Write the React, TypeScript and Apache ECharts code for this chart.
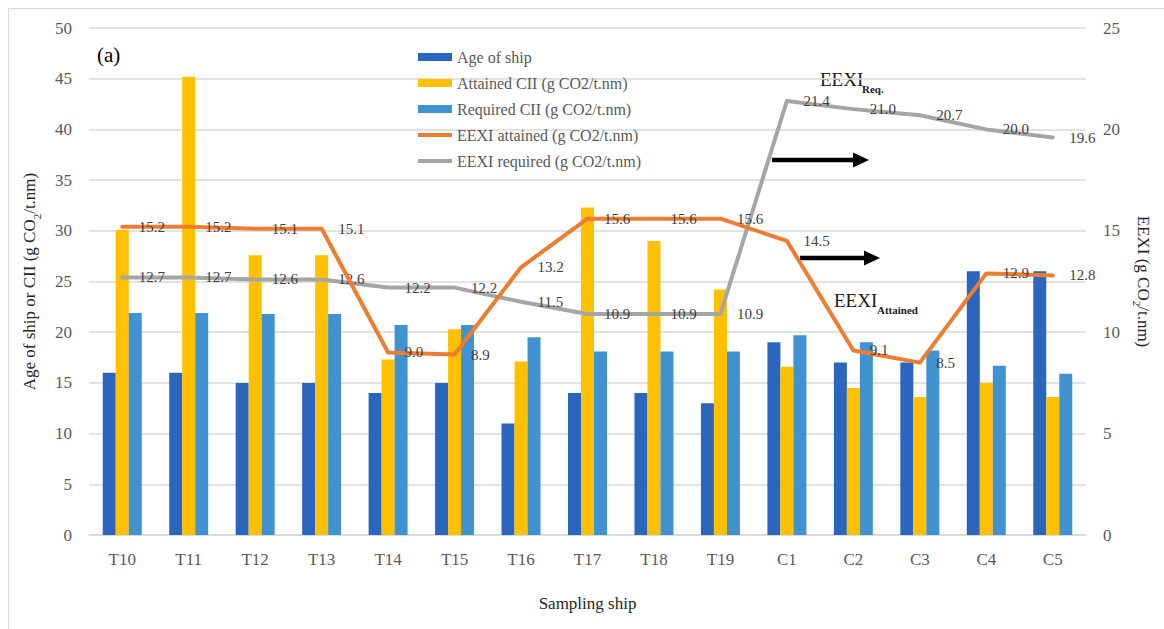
import React, { useEffect, useRef } from "react";
import * as echarts from "echarts";

const categories = ["T10", "T11", "T12", "T13", "T14", "T15", "T16", "T17", "T18", "T19", "C1", "C2", "C3", "C4", "C5"];
const ageOfShip = [16, 16, 15, 15, 14, 15, 11, 14, 14, 13, 19, 17, 17, 26, 26];
const attainedCII = [30.1, 45.2, 27.6, 27.6, 17.3, 20.3, 17.1, 32.3, 29.0, 24.2, 16.6, 14.5, 13.6, 15.0, 13.6];
const requiredCII = [21.9, 21.9, 21.8, 21.8, 20.7, 20.7, 19.5, 18.1, 18.1, 18.1, 19.7, 19.0, 18.2, 16.7, 15.9];
const eexiAttained = [15.2, 15.2, 15.1, 15.1, 9.0, 8.9, 13.2, 15.6, 15.6, 15.6, 14.5, 9.1, 8.5, 12.9, 12.8];
const eexiRequired = [12.7, 12.7, 12.6, 12.6, 12.2, 12.2, 11.5, 10.9, 10.9, 10.9, 21.4, 21.0, 20.7, 20.0, 19.6];
const seriesNames = [
  "Age of ship",
  "Attained CII (g CO2/t.nm)",
  "Required CII (g CO2/t.nm)",
  "EEXI attained (g CO2/t.nm)",
  "EEXI required (g CO2/t.nm)",
];

const FONT = "Liberation Serif";
const GRAY_TEXT = "#595959";
const LINE_ICON = "path://M0 0H34V4H0Z";

function makeLineLabel() {
  return {
    show: true,
    position: "right",
    distance: 16,
    color: "#404040",
    fontSize: 15,
    fontFamily: FONT,
    fontWeight: "normal",
    formatter: (p: any) => Number(p.value).toFixed(1),
  };
}

export default function App() {
  const ref = useRef<HTMLDivElement>(null);
  useEffect(() => {
    if (!ref.current) return;
    const chart = echarts.init(ref.current, null, { renderer: "svg" });
    const nameRich = {
      n: { fontSize: 17, fontFamily: FONT, color: "#262626", lineHeight: 20, verticalAlign: "top" },
      s: { fontSize: 11, fontFamily: FONT, color: "#262626", lineHeight: 11, padding: [10, 0, 0, 0], verticalAlign: "top" },
    };
    const option: any = {
      animation: false,
      backgroundColor: "#ffffff",
      textStyle: { fontFamily: FONT },
      grid: { left: 89, right: 78, top: 28, bottom: 94 },
      legend: {
        orient: "vertical",
        left: 413,
        top: 44,
        itemWidth: 34,
        itemHeight: 8,
        itemGap: 10,
        symbolKeepAspect: true,
        textStyle: { fontSize: 16, fontFamily: FONT, color: GRAY_TEXT },
        data: [
          { name: seriesNames[0], icon: "rect" },
          { name: seriesNames[1], icon: "rect" },
          { name: seriesNames[2], icon: "rect" },
          { name: seriesNames[3], icon: LINE_ICON },
          { name: seriesNames[4], icon: LINE_ICON },
        ],
      },
      xAxis: {
        type: "category",
        data: categories,
        name: "Sampling ship",
        nameLocation: "middle",
        nameGap: 60,
        nameTextStyle: { fontSize: 17, fontFamily: FONT, color: "#262626" },
        axisLine: { show: true, lineStyle: { color: "#d9d9d9", width: 1.5 } },
        axisTick: { show: false },
        axisLabel: { fontSize: 17, fontFamily: FONT, color: GRAY_TEXT, margin: 16 },
      },
      yAxis: [
        {
          type: "value",
          min: 0,
          max: 50,
          interval: 5,
          name: "{n|Age of ship or CII (g CO}{s|2}{n|/t.nm)}",
          nameLocation: "middle",
          nameGap: 48,
          nameRotate: 90,
          nameTextStyle: { rich: nameRich },
          axisLine: { show: false },
          axisTick: { show: false },
          axisLabel: { fontSize: 17, fontFamily: FONT, color: GRAY_TEXT, margin: 17 },
          splitLine: { lineStyle: { color: "#d9d9d9", width: 1.5 } },
        },
        {
          type: "value",
          min: 0,
          max: 25,
          interval: 5,
          position: "right",
          name: "{n|EEXI (g CO}{s|2}{n|/t.nm)}",
          nameLocation: "middle",
          nameGap: 46,
          nameRotate: -90,
          nameTextStyle: { rich: nameRich },
          axisLine: { show: false },
          axisTick: { show: false },
          axisLabel: { fontSize: 17, fontFamily: FONT, color: GRAY_TEXT, margin: 17 },
          splitLine: { show: false },
        },
      ],
      series: [
        { name: seriesNames[0], type: "bar", data: ageOfShip, barWidth: 13, barGap: "0%", itemStyle: { color: "#2A66BE" } },
        { name: seriesNames[1], type: "bar", data: attainedCII, barWidth: 13, barGap: "0%", itemStyle: { color: "#FFC000" } },
        { name: seriesNames[2], type: "bar", data: requiredCII, barWidth: 13, barGap: "0%", itemStyle: { color: "#4192D0" } },
        {
          name: seriesNames[3],
          type: "line",
          yAxisIndex: 1,
          data: eexiAttained,
          symbol: "circle",
          symbolSize: 1,
          showSymbol: true,
          lineStyle: { color: "#ED7D31", width: 4, join: "round", cap: "round" },
          itemStyle: { color: "#ED7D31" },
          label: makeLineLabel(),
          z: 5,
        },
        {
          name: seriesNames[4],
          type: "line",
          yAxisIndex: 1,
          data: eexiRequired,
          symbol: "circle",
          symbolSize: 1,
          showSymbol: true,
          lineStyle: { color: "#A5A5A5", width: 4, join: "round", cap: "round" },
          itemStyle: { color: "#A5A5A5" },
          label: makeLineLabel(),
          z: 4,
        },
      ],
      graphic: [
        {
          type: "rect",
          silent: true,
          z: -10,
          shape: { x: 8.5, y: 8.5, width: 1200, height: 700 },
          style: { fill: "none", stroke: "#d9d9d9", lineWidth: 1 },
        },
        {
          type: "text",
          x: 97,
          y: 55,
          style: { text: "(a)", fontSize: 21, fontFamily: FONT, fill: "#000", verticalAlign: "middle" },
        },
        {
          type: "text",
          x: 820,
          y: 79,
          style: { text: "EEXI", fontSize: 19, fontFamily: FONT, fill: "#1a1a1a", verticalAlign: "middle" },
        },
        {
          type: "text",
          x: 862,
          y: 89,
          style: { text: "Req.", fontSize: 11, fontWeight: "bold", fontFamily: FONT, fill: "#1a1a1a", verticalAlign: "middle" },
        },
        {
          type: "text",
          x: 834,
          y: 300,
          style: { text: "EEXI", fontSize: 19, fontFamily: FONT, fill: "#1a1a1a", verticalAlign: "middle" },
        },
        {
          type: "text",
          x: 877,
          y: 310,
          style: { text: "Attained", fontSize: 11, fontWeight: "bold", fontFamily: FONT, fill: "#1a1a1a", verticalAlign: "middle" },
        },
        {
          type: "line",
          shape: { x1: 772, y1: 160, x2: 856, y2: 160 },
          style: { stroke: "#000", lineWidth: 4.5 },
        },
        {
          type: "polygon",
          shape: { points: [[853, 152.5], [869, 160], [853, 167.5]] },
          style: { fill: "#000" },
        },
        {
          type: "line",
          shape: { x1: 800, y1: 258, x2: 867, y2: 258 },
          style: { stroke: "#000", lineWidth: 4.5 },
        },
        {
          type: "polygon",
          shape: { points: [[864, 250.5], [880, 258], [864, 265.5]] },
          style: { fill: "#000" },
        },
      ],
    };
    chart.setOption(option);
    return () => chart.dispose();
  }, []);
  return (
    <div
      ref={ref}
      style={{ position: "absolute", left: 0, top: 0, width: 1164, height: 629, background: "#fff" }}
    />
  );
}
